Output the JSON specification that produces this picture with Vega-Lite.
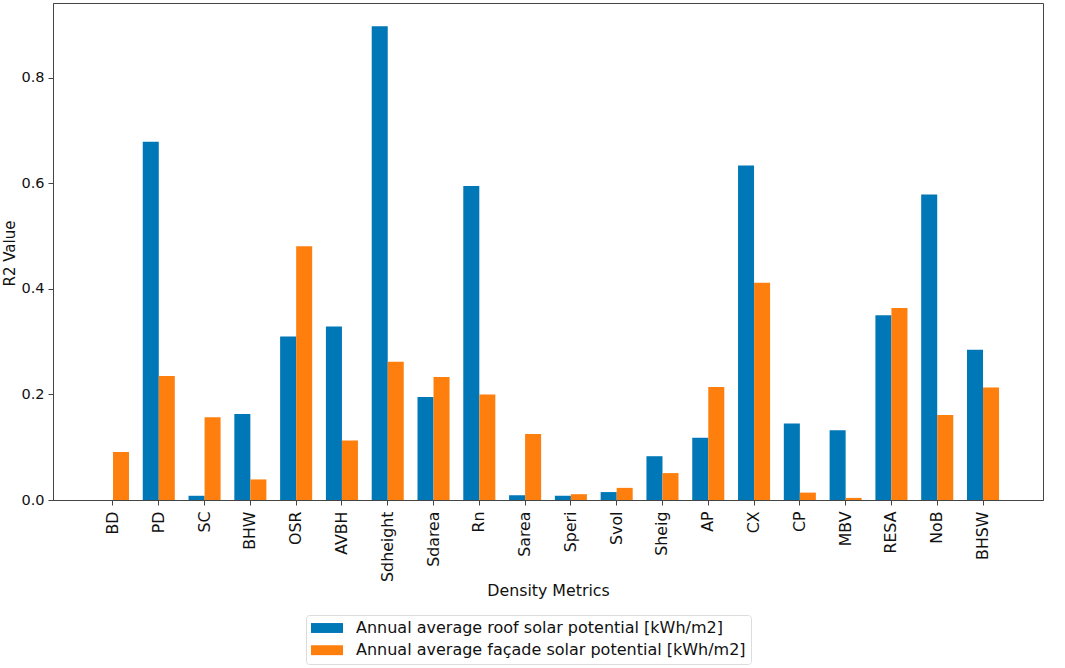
{
  "$schema": "https://vega.github.io/schema/vega-lite/v6.json",
  "autosize": {"type": "none"},
  "padding": {"left": 53, "top": 3, "right": 22, "bottom": 168},
  "width": 990,
  "height": 497,
  "background": "white",
  "config": {
    "font": "DejaVu Sans",
    "view": {"stroke": "#444", "strokeWidth": 1},
    "axis": {"grid": false, "domainColor": "#444", "tickColor": "#444", "labelColor": "#111", "titleColor": "#111", "labelFont": "DejaVu Sans", "titleFont": "DejaVu Sans", "titleFontWeight": "normal"}
  },
  "data": {
    "values": [
      {"metric": "BD", "series": "Annual average roof solar potential [kWh/m2]", "r2": 0.0},
      {"metric": "BD", "series": "Annual average façade solar potential [kWh/m2]", "r2": 0.091},
      {"metric": "PD", "series": "Annual average roof solar potential [kWh/m2]", "r2": 0.679},
      {"metric": "PD", "series": "Annual average façade solar potential [kWh/m2]", "r2": 0.235},
      {"metric": "SC", "series": "Annual average roof solar potential [kWh/m2]", "r2": 0.008},
      {"metric": "SC", "series": "Annual average façade solar potential [kWh/m2]", "r2": 0.157},
      {"metric": "BHW", "series": "Annual average roof solar potential [kWh/m2]", "r2": 0.163},
      {"metric": "BHW", "series": "Annual average façade solar potential [kWh/m2]", "r2": 0.039},
      {"metric": "OSR", "series": "Annual average roof solar potential [kWh/m2]", "r2": 0.31},
      {"metric": "OSR", "series": "Annual average façade solar potential [kWh/m2]", "r2": 0.481},
      {"metric": "AVBH", "series": "Annual average roof solar potential [kWh/m2]", "r2": 0.329},
      {"metric": "AVBH", "series": "Annual average façade solar potential [kWh/m2]", "r2": 0.113},
      {"metric": "Sdheight", "series": "Annual average roof solar potential [kWh/m2]", "r2": 0.898},
      {"metric": "Sdheight", "series": "Annual average façade solar potential [kWh/m2]", "r2": 0.262},
      {"metric": "Sdarea", "series": "Annual average roof solar potential [kWh/m2]", "r2": 0.195},
      {"metric": "Sdarea", "series": "Annual average façade solar potential [kWh/m2]", "r2": 0.233},
      {"metric": "Rn", "series": "Annual average roof solar potential [kWh/m2]", "r2": 0.595},
      {"metric": "Rn", "series": "Annual average façade solar potential [kWh/m2]", "r2": 0.2},
      {"metric": "Sarea", "series": "Annual average roof solar potential [kWh/m2]", "r2": 0.009},
      {"metric": "Sarea", "series": "Annual average façade solar potential [kWh/m2]", "r2": 0.125},
      {"metric": "Speri", "series": "Annual average roof solar potential [kWh/m2]", "r2": 0.008},
      {"metric": "Speri", "series": "Annual average façade solar potential [kWh/m2]", "r2": 0.011},
      {"metric": "Svol", "series": "Annual average roof solar potential [kWh/m2]", "r2": 0.015},
      {"metric": "Svol", "series": "Annual average façade solar potential [kWh/m2]", "r2": 0.023},
      {"metric": "Sheig", "series": "Annual average roof solar potential [kWh/m2]", "r2": 0.083},
      {"metric": "Sheig", "series": "Annual average façade solar potential [kWh/m2]", "r2": 0.051},
      {"metric": "AP", "series": "Annual average roof solar potential [kWh/m2]", "r2": 0.118},
      {"metric": "AP", "series": "Annual average façade solar potential [kWh/m2]", "r2": 0.214},
      {"metric": "CX", "series": "Annual average roof solar potential [kWh/m2]", "r2": 0.634},
      {"metric": "CX", "series": "Annual average façade solar potential [kWh/m2]", "r2": 0.412},
      {"metric": "CP", "series": "Annual average roof solar potential [kWh/m2]", "r2": 0.145},
      {"metric": "CP", "series": "Annual average façade solar potential [kWh/m2]", "r2": 0.014},
      {"metric": "MBV", "series": "Annual average roof solar potential [kWh/m2]", "r2": 0.132},
      {"metric": "MBV", "series": "Annual average façade solar potential [kWh/m2]", "r2": 0.004},
      {"metric": "RESA", "series": "Annual average roof solar potential [kWh/m2]", "r2": 0.35},
      {"metric": "RESA", "series": "Annual average façade solar potential [kWh/m2]", "r2": 0.364},
      {"metric": "NoB", "series": "Annual average roof solar potential [kWh/m2]", "r2": 0.579},
      {"metric": "NoB", "series": "Annual average façade solar potential [kWh/m2]", "r2": 0.161},
      {"metric": "BHSW", "series": "Annual average roof solar potential [kWh/m2]", "r2": 0.285},
      {"metric": "BHSW", "series": "Annual average façade solar potential [kWh/m2]", "r2": 0.213}
    ]
  },
  "mark": {"type": "bar"},
  "encoding": {
    "x": {
      "field": "metric",
      "type": "nominal",
      "sort": null,
      "scale": {"paddingInner": 0.3, "paddingOuter": 0.96},
      "axis": {
        "title": "Density Metrics",
        "titleFontSize": 15.8,
        "titleY": 90,
        "titleBaseline": "middle",
        "labelAngle": -90,
        "labelFontSize": 15.8,
        "labelPadding": 6,
        "tickSize": 5,
        "tickBand": "center"
      }
    },
    "xOffset": {
      "field": "series",
      "type": "nominal",
      "sort": ["Annual average roof solar potential [kWh/m2]", "Annual average façade solar potential [kWh/m2]"],
      "scale": {"paddingInner": 0, "paddingOuter": 0}
    },
    "y": {
      "field": "r2",
      "type": "quantitative",
      "scale": {"domain": [0, 0.942], "nice": false, "zero": true},
      "axis": {
        "title": "R2 Value",
        "titleFontSize": 15,
        "titleAngle": -90,
        "titleX": -43.5,
        "titleY": 250,
        "titleAlign": "center",
        "titleBaseline": "middle",
        "values": [0, 0.2, 0.4, 0.6, 0.8],
        "format": ".1f",
        "labelFontSize": 14.5,
        "labelPadding": 4,
        "tickSize": 5
      }
    },
    "color": {
      "field": "series",
      "type": "nominal",
      "sort": ["Annual average roof solar potential [kWh/m2]", "Annual average façade solar potential [kWh/m2]"],
      "scale": {"range": ["#0077b6", "#ff7f0e"]},
      "legend": {
        "title": null,
        "orient": "none",
        "legendX": 253,
        "legendY": 612,
        "padding": 5,
        "strokeColor": "#dcdcdc",
        "fillColor": "white",
        "cornerRadius": 3,
        "symbolType": "M-1,-0.62H3V0.62H-1Z",
        "symbolSize": 256,
        "symbolStrokeWidth": 0,
        "symbolOpacity": 1,
        "labelFontSize": 16,
        "labelFont": "DejaVu Sans",
        "labelColor": "#111",
        "labelOffset": 29,
        "labelLimit": 700,
        "rowPadding": 6.2
      }
    }
  }
}
